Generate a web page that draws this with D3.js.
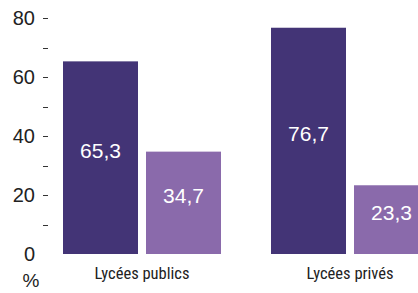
<!DOCTYPE html>
<html>
<head>
<meta charset="utf-8">
<script src="https://cdn.jsdelivr.net/npm/d3@7"></script>
<style>
  body { margin: 0; background: #fff; overflow: hidden; }
  svg { display: block; }
</style>
</head>
<body>
<script>
// data
const categories = ['Lycées publics', 'Lycées privés']
const series = ['a', 'b']
const valuesA = [65.3, 76.7]
const valuesB = [34.7, 23.3]
const valueLabels = [['65,3', '34,7'], ['76,7', '23,3']]
const yTicks = [0, 10, 20, 30, 40, 50, 60, 70, 80]
const yTickLabels = ['0', '', '20', '', '40', '', '60', '', '80']
const unit = '%'

const width = 418
const height = 293
const colors = ['#433476', '#8a6aab']
const numFont = '"Liberation Sans", Arial, sans-serif'

const svg = d3.select('body').append('svg')
  .attr('width', width)
  .attr('height', height)

const y = d3.scaleLinear().domain([0, 80]).range([254, 18])

const x0 = d3.scaleBand()
  .domain(categories)
  .range([63, 429])
  .paddingInner(50 / 208)
  .paddingOuter(0)

const x1 = d3.scaleBand()
  .domain(series)
  .range([0, x0.bandwidth()])
  .paddingInner(8 / 83)

// y axis
const yaxis = d3.axisLeft(y)
  .tickValues(yTicks)
  .tickSize(5)
  .tickPadding(8)
  .tickFormat((d, i) => yTickLabels[i])

const ag = svg.append('g')
  .attr('transform', 'translate(48,0)')
  .call(yaxis)
ag.select('.domain').remove()
ag.selectAll('.tick line')
  .attr('stroke', '#333')
  .attr('stroke-width', 1)
  .style('shape-rendering', 'crispEdges')
  .filter(d => d === 0).remove()
ag.selectAll('.tick text')
  .attr('fill', '#222')
  .style('font-family', numFont)
  .style('font-size', '20px')

svg.append('text')
  .attr('x', 31)
  .attr('y', 287)
  .attr('text-anchor', 'middle')
  .attr('fill', '#222')
  .style('font-family', numFont)
  .style('font-size', '19px')
  .text(unit)

// bars
const rows = categories.map((c, i) => ({
  cat: c,
  vals: [
    { key: 'a', v: valuesA[i], label: valueLabels[i][0] },
    { key: 'b', v: valuesB[i], label: valueLabels[i][1] }
  ]
}))

const groups = svg.selectAll('g.grp')
  .data(rows)
  .enter()
  .append('g')
  .attr('class', 'grp')
  .attr('transform', d => 'translate(' + x0(d.cat) + ',0)')

groups.selectAll('rect')
  .data(d => d.vals)
  .enter()
  .append('rect')
  .attr('x', d => x1(d.key))
  .attr('y', d => y(d.v))
  .attr('width', x1.bandwidth())
  .attr('height', d => y(0) - y(d.v))
  .attr('fill', (d, i) => colors[i])

groups.selectAll('text.val')
  .data(d => d.vals)
  .enter()
  .append('text')
  .attr('class', 'val')
  .attr('x', d => x1(d.key) + x1.bandwidth() / 2)
  .attr('y', d => y(d.v / 2))
  .attr('text-anchor', 'middle')
  .attr('fill', '#fff')
  .style('font-family', numFont)
  .style('font-size', '21px')
  .text(d => d.label)

// category labels
groups.append('text')
  .attr('x', x0.bandwidth() / 2)
  .attr('y', 279)
  .attr('text-anchor', 'middle')
  .attr('fill', '#222')
  .style('font-family', '"Liberation Sans Narrow", "Roboto Condensed", Roboto, sans-serif')
  .style('font-stretch', 'condensed')
  .style('font-size', '16.5px')
  .text(d => d.cat)
</script>
</body>
</html>
